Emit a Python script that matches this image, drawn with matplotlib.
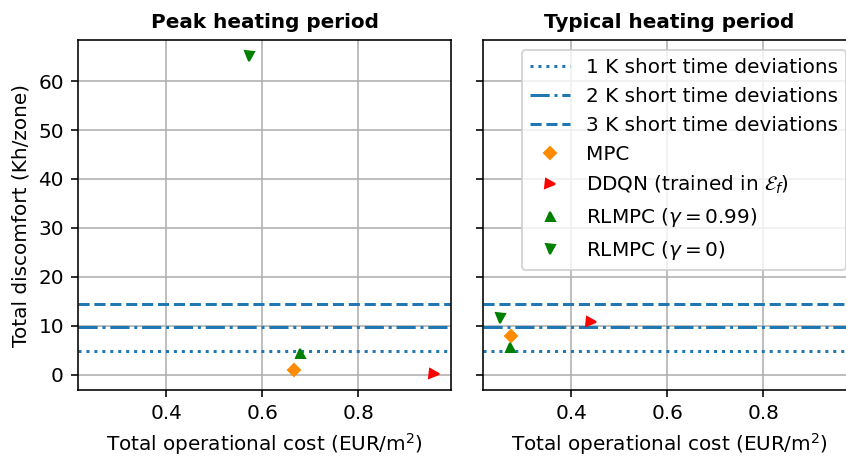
import matplotlib
matplotlib.use("Agg")
import matplotlib.pyplot as plt

# deviation thresholds (Kh/zone)
dev_labels = ["1 K short time deviations", "2 K short time deviations", "3 K short time deviations"]
dev_values = [4.8, 9.7, 14.4]
dev_styles = [":", "-.", "--"]

# controllers: (cost, discomfort) for each period
ctrl_labels = ["MPC", r"DDQN (trained in $\mathcal{E}_f$)", r"RLMPC ($\gamma = 0.99$)", r"RLMPC ($\gamma = 0$)"]
ctrl_markers = ["D", ">", "^", "v"]
ctrl_colors = ["darkorange", "red", "green", "green"]

peak_cost = [0.667, 0.958, 0.679, 0.573]
peak_discomfort = [1.0, 0.2, 4.4, 65.1]

typical_cost = [0.274, 0.440, 0.271, 0.251]
typical_discomfort = [7.9, 10.8, 5.8, 11.6]

titles = ["Peak heating period", "Typical heating period"]

plt.rcParams["font.size"] = 10

fig, axes = plt.subplots(1, 2, figsize=(846 / 144, 456 / 144), dpi=144, sharex=True, sharey=True)

data = [(peak_cost, peak_discomfort), (typical_cost, typical_discomfort)]
for ax, title, (cost, disc) in zip(axes, titles, data):
    for lab, val, ls in zip(dev_labels, dev_values, dev_styles):
        ax.axhline(val, color="#1f77b4", linestyle=ls, linewidth=1.5, label=lab)
    for i in range(len(ctrl_labels)):
        ax.plot(cost[i], disc[i], linestyle="none", marker=ctrl_markers[i],
                color=ctrl_colors[i], markersize=4.5, label=ctrl_labels[i])
    ax.set_title(title, fontweight="bold", fontsize=10)
    ax.set_xlabel(r"Total operational cost (EUR/m$^2$)")
    ax.grid(True, color="#b0b0b0")
    ax.set_axisbelow(True)

axes[0].set_ylabel("Total discomfort (Kh/zone)")
axes[0].set_xticks([0.4, 0.6, 0.8])
axes[1].legend(loc="upper right")

# the right panel runs slightly past the image edge, as in the original crop
fig.subplots_adjust(left=78 / 846, right=856 / 846, top=0.912, bottom=0.145, wspace=0.086)
fig.savefig("out.png")
